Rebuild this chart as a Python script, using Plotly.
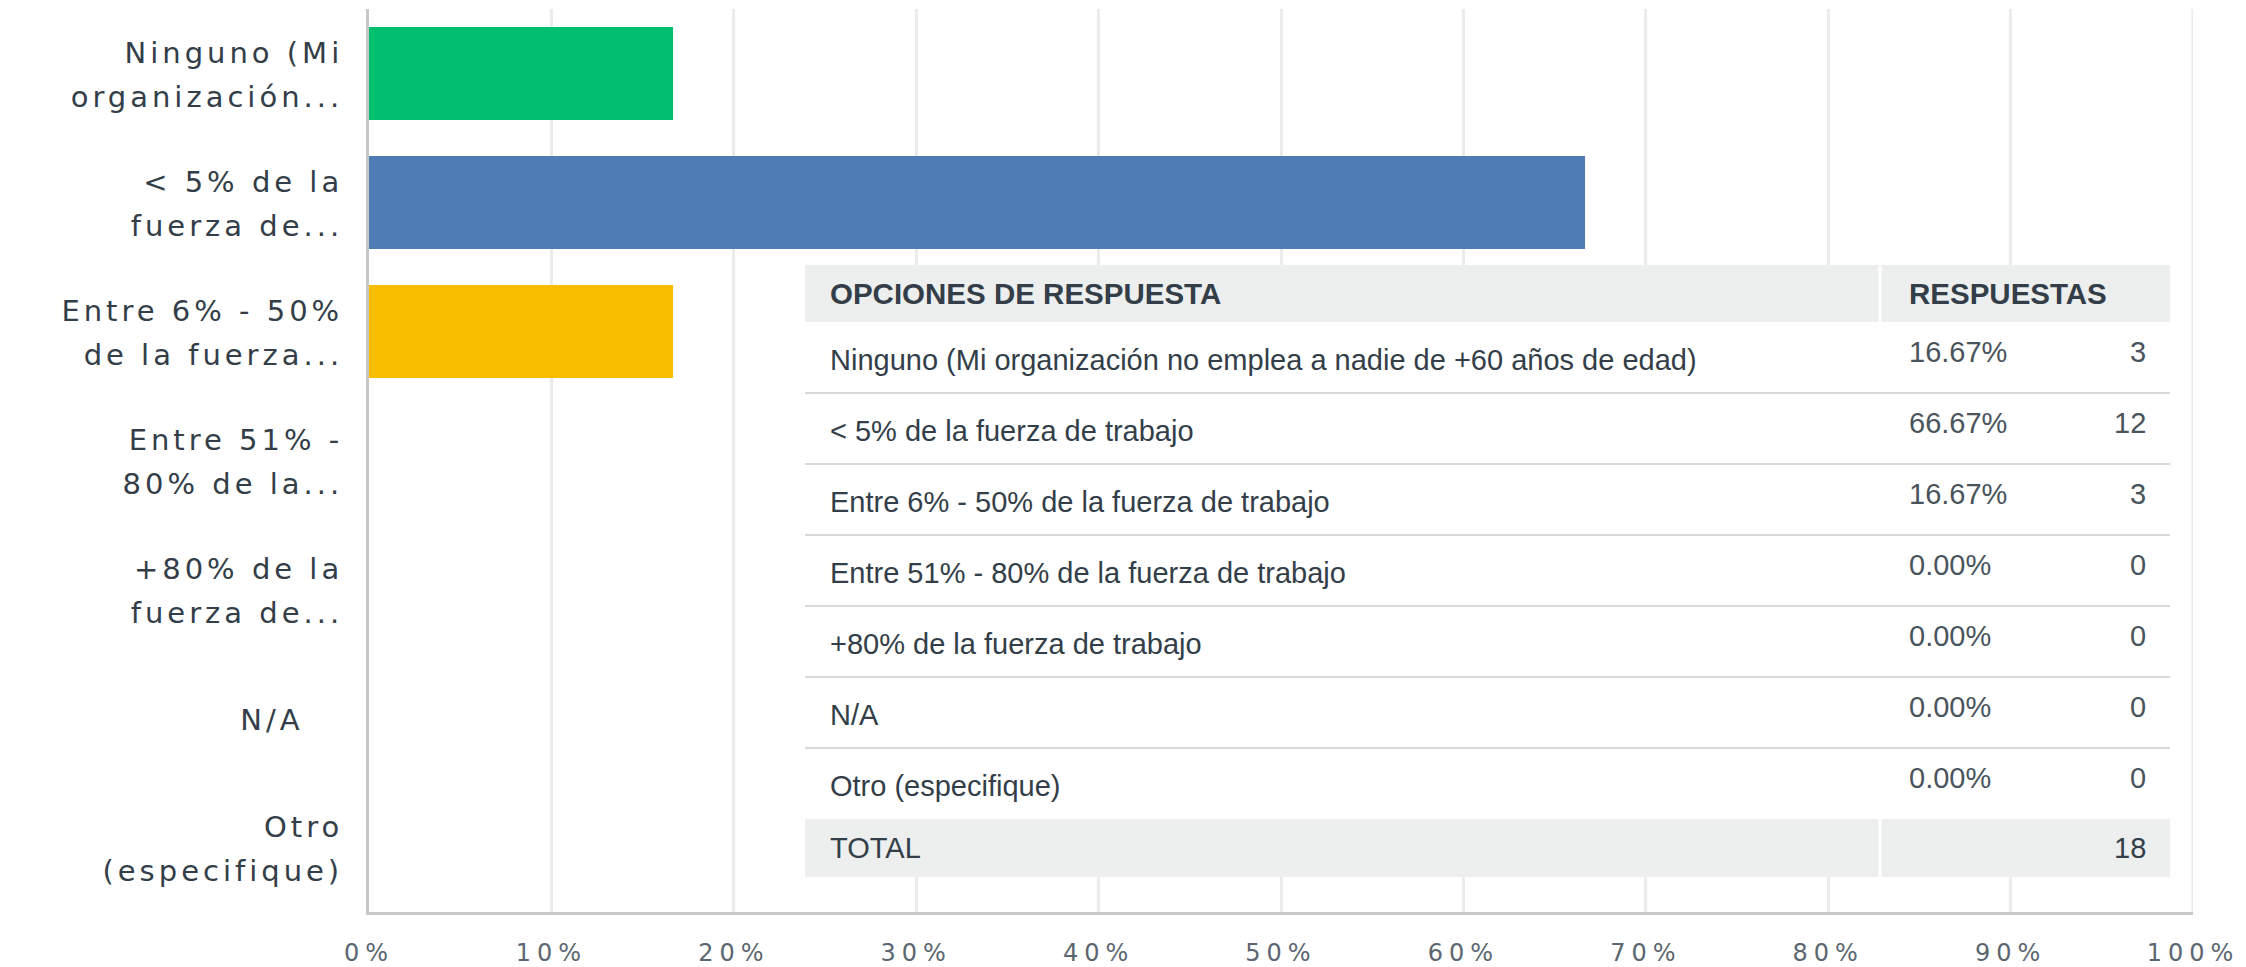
import plotly.graph_objects as go

# ---------------- data ----------------
options = [
    "Ninguno (Mi organización no emplea a nadie de +60 años de edad)",
    "< 5% de la fuerza de trabajo",
    "Entre 6% - 50% de la fuerza de trabajo",
    "Entre 51% - 80% de la fuerza de trabajo",
    "+80% de la fuerza de trabajo",
    "N/A",
    "Otro (especifique)",
]
axis_labels = [
    ["Ninguno (Mi", "organización..."],
    ["&lt; 5% de la", "fuerza de..."],
    ["Entre 6% - 50%", "de la fuerza..."],
    ["Entre 51% -", "80% de la..."],
    ["+80% de la", "fuerza de..."],
    ["N/A\u00a0\u00a0\u00a0"],
    ["Otro", "(especifique)"],
]
percents = [16.67, 66.67, 16.67, 0.00, 0.00, 0.00, 0.00]
counts = [3, 12, 3, 0, 0, 0, 0]
total = 18
bar_colors = ["#00bf6f", "#507cb6", "#f9be00", "#6bc8cd", "#ff8b4f", "#7d5e90", "#d25f90"]
x_ticks = [0, 10, 20, 30, 40, 50, 60, 70, 80, 90, 100]
x_tick_labels = ["0%", "10%", "20%", "30%", "40%", "50%", "60%", "70%", "80%", "90%", "100%"]
header_labels = ["OPCIONES DE RESPUESTA", "RESPUESTAS"]
total_label = "TOTAL"

# ---------------- geometry helpers ----------------
W, H = 2246, 967
X0, X1 = 369, 2193   # plot area left/right (px)
Y0, Y1 = 9, 912      # plot area top/bottom (px)


def px(xp):
    return (xp - X0) / (X1 - X0)


def py(yp):
    return (Y1 - yp) / (Y1 - Y0)


TEXT = "#333e48"
GRID = "#ebebeb"

fig = go.Figure()
fig.add_trace(go.Bar(
    x=percents, y=options, orientation="h",
    marker=dict(color=bar_colors, line=dict(width=0)),
    hoverinfo="x+y", showlegend=False,
))


def ylab(lines):
    return "<br>".join(
        f"<span style='font-size:29px;letter-spacing:4px'>{ln}</span>" for ln in lines
    )


def xlab(t):
    return f"<span style='letter-spacing:6px'>{t}</span>"


fig.update_layout(
    width=W, height=H,
    margin=dict(l=X0, r=W - X1, t=Y0, b=H - Y1, pad=0),
    paper_bgcolor="white", plot_bgcolor="white",
    bargap=0.28,
    font=dict(family="DejaVu Sans", color=TEXT),
    xaxis=dict(
        range=[0, 100], tickvals=x_ticks, ticktext=[xlab(t) for t in x_tick_labels],
        showgrid=True, gridcolor=GRID, gridwidth=3,
        zeroline=False, showline=True, linecolor="#c8c8c8", linewidth=3,
        ticks="", ticklabelstandoff=17, automargin=False, ticklabeloverflow="allow",
        tickfont=dict(family="DejaVu Sans", size=24, color="#5c6670"),
        fixedrange=True,
    ),
    yaxis=dict(
        categoryorder="array", categoryarray=options, autorange="reversed",
        tickvals=options, ticktext=[ylab(l) for l in axis_labels],
        showgrid=False, zeroline=False, showline=True, linecolor="#c8c8c8", linewidth=3,
        ticks="", ticklabelstandoff=16, automargin=False,
        tickfont=dict(family="DejaVu Sans", size=34, color=TEXT),
        fixedrange=True,
    ),
)

# ---------------- table (shapes + annotations) ----------------
TL, TR = 805, 2170
COLDIV = 1880
HEAD_T, HEAD_B = 265, 322
ROW_H = 71
TOT_T = HEAD_B + ROW_H * len(options)
TOT_B = TOT_T + 58
GREY_BG = "#edeeee"
TX = 828
PX_ = 1907
CX = 2148

shapes = []
# gridline at the right end of the value axis
shapes.append(dict(type="line", xref="x", yref="paper", x0=100, x1=100, y0=0, y1=1,
                   line=dict(color=GRID, width=3), layer="below"))
# white background covering the gridlines
shapes.append(dict(type="rect", xref="paper", yref="paper", x0=px(TL), x1=px(TR),
                   y0=py(TOT_B), y1=py(HEAD_T), fillcolor="white", line=dict(width=0), layer="above"))
# header band
shapes.append(dict(type="rect", xref="paper", yref="paper", x0=px(TL), x1=px(TR),
                   y0=py(HEAD_B), y1=py(HEAD_T), fillcolor=GREY_BG, line=dict(width=0), layer="above"))
# total band
shapes.append(dict(type="rect", xref="paper", yref="paper", x0=px(TL), x1=px(TR),
                   y0=py(TOT_B), y1=py(TOT_T), fillcolor=GREY_BG, line=dict(width=0), layer="above"))
# white column dividers in header and total
for (a, b) in [(HEAD_T, HEAD_B), (TOT_T, TOT_B)]:
    shapes.append(dict(type="line", xref="paper", yref="paper", x0=px(COLDIV), x1=px(COLDIV),
                       y0=py(b), y1=py(a), line=dict(color="white", width=3), layer="above"))
# row separators
for i in range(1, len(options)):
    yy = HEAD_B + ROW_H * i
    shapes.append(dict(type="line", xref="paper", yref="paper", x0=px(TL), x1=px(TR),
                       y0=py(yy), y1=py(yy), line=dict(color="#d7d9da", width=2), layer="above"))

annotations = []
TFONT = "Liberation Sans, Arial, sans-serif"
hc = (HEAD_T + HEAD_B) / 2
annotations.append(dict(xref="paper", yref="paper", x=px(TX), y=py(hc), text=header_labels[0],
                        showarrow=False, xanchor="left", yanchor="middle",
                        font=dict(family=TFONT, size=29.5, color=TEXT, weight="bold")))
annotations.append(dict(xref="paper", yref="paper", x=px(PX_), y=py(hc), text=header_labels[1],
                        showarrow=False, xanchor="left", yanchor="middle",
                        font=dict(family=TFONT, size=29.5, color=TEXT, weight="bold")))
for i, (opt, pc, ct) in enumerate(zip(options, percents, counts)):
    top = HEAD_B + ROW_H * i
    annotations.append(dict(xref="paper", yref="paper", x=px(TX), y=py(top + 38), text=opt,
                            showarrow=False, xanchor="left", yanchor="middle",
                            font=dict(family=TFONT, size=29, color=TEXT)))
    annotations.append(dict(xref="paper", yref="paper", x=px(PX_), y=py(top + 30), text=f"{pc:.2f}%",
                            showarrow=False, xanchor="left", yanchor="middle",
                            font=dict(family=TFONT, size=29, color="#4a545c")))
    annotations.append(dict(xref="paper", yref="paper", x=px(CX), y=py(top + 30), text=str(ct),
                            showarrow=False, xanchor="right", yanchor="middle",
                            font=dict(family=TFONT, size=29, color="#4a545c")))
tc = (TOT_T + TOT_B) / 2
annotations.append(dict(xref="paper", yref="paper", x=px(TX), y=py(tc), text=total_label,
                        showarrow=False, xanchor="left", yanchor="middle",
                        font=dict(family=TFONT, size=29, color=TEXT)))
annotations.append(dict(xref="paper", yref="paper", x=px(CX), y=py(tc), text=str(total),
                        showarrow=False, xanchor="right", yanchor="middle",
                        font=dict(family=TFONT, size=29, color=TEXT)))

fig.update_layout(shapes=shapes, annotations=annotations)

fig.write_html("out.html", config={"displayModeBar": False})
